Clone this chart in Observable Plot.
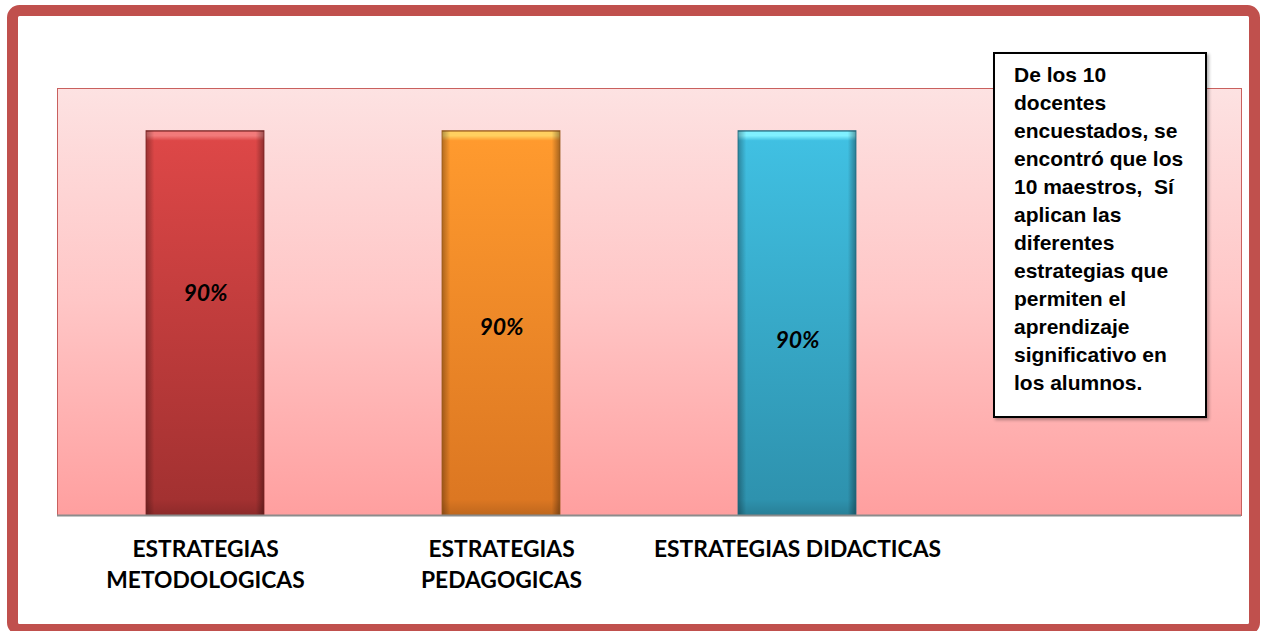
<!DOCTYPE html>
<html>
<head>
<meta charset="utf-8">
<script src="https://cdn.jsdelivr.net/npm/d3@7"></script>
<script src="https://cdn.jsdelivr.net/npm/@observablehq/plot@0.6"></script>
<style>
  html, body { margin: 0; padding: 0; background: #fff; }
  #wrap { position: relative; width: 1261px; height: 631px; overflow: hidden; }
  #note {
    position: absolute; left: 993px; top: 52px; width: 214px; height: 366px;
    box-sizing: border-box; border: 2px solid #000; background: #fff;
    font: bold 21px "Liberation Sans", Arial, sans-serif; line-height: 28px;
    padding: 7px 0 0 19px; white-space: pre; color: #000;
    box-shadow: 2px 2px 3px rgba(0,0,0,0.3);
  }
</style>
</head>
<body>
<div id="wrap"></div>
<script>
// ---- data ----
const categories = ["ESTRATEGIAS METODOLOGICAS", "ESTRATEGIAS PEDAGOGICAS", "ESTRATEGIAS DIDACTICAS", " "];
const values = [90, 90, 90];
const valueLabels = ["90%", "90%", "90%"];
const tickLabels = ["ESTRATEGIAS\nMETODOLOGICAS", "ESTRATEGIAS\nPEDAGOGICAS", "ESTRATEGIAS DIDACTICAS", ""];
const noteLines = [
  "De los 10",
  "docentes",
  "encuestados, se",
  "encontró que los",
  "10 maestros,  Sí",
  "aplican las",
  "diferentes",
  "estrategias que",
  "permiten el",
  "aprendizaje",
  "significativo en",
  "los alumnos."
];

// ---- styling (not data) ----
const barColors = [
  {hi: "#f27a7a", top: "#dd4747", bot: "#a33131", edge: "#7a2222"},
  {hi: "#ffd060", top: "#ff9a2e", bot: "#dc7722", edge: "#9a5a1a"},
  {hi: "#80f0ff", top: "#40c0e2", bot: "#2e92ae", edge: "#1f6a80"}
];
const labelAt = [52, 44, 41]; // vertical placement of the value labels (in y units)

const rows = values.map((v, i) => ({
  cat: categories[i], value: v, label: valueLabels[i],
  grad: `url(#bar${i})`, edge: barColors[i].edge, ly: labelAt[i]
}));

const svg = Plot.plot({
  width: 1261,
  height: 631,
  marginLeft: 57,
  marginRight: 20,
  marginTop: 88,
  marginBottom: 116,
  style: {fontFamily: "Lato, 'Open Sans', sans-serif", background: "transparent", overflow: "visible"},
  x: {domain: categories, paddingInner: 0.6, paddingOuter: 0.3, align: 0.5},
  y: {domain: [0, 100], axis: null},
  color: {type: "identity"},
  marks: [
    Plot.frame({fill: "url(#bg)", stroke: "#c9605e", strokeWidth: 1}),
    Plot.barY(rows, {x: "cat", y: "value", fill: "grad"}),
    Plot.barY(rows, {x: "cat", y: "value", fill: "url(#edgeShade)"}),
    Plot.barY(rows, {x: "cat", y: "value", fill: "none", stroke: "edge", strokeWidth: 1, strokeOpacity: 0.8}),
    Plot.text(rows, {x: "cat", y: "ly", text: "label", fontSize: 23, fontWeight: "bold", fontStyle: "italic", fill: "#000"}),
    Plot.ruleY([0], {stroke: "#8c8c8c", strokeWidth: 2}),
    Plot.axisX({
      tickSize: 0, tickPadding: 20, fontSize: 22.8, fontWeight: "bold", lineHeight: 1.34,
      fill: "#000", tickFormat: d => tickLabels[categories.indexOf(d)], label: null
    }),
    Plot.frame({stroke: "#c0504d", strokeWidth: 11, rx: 7, insetLeft: -45, insetTop: -78, insetRight: -13, insetBottom: -114})
  ]
});

// gradients
const defs = d3.select(svg).insert("defs", ":first-child");
const bg = defs.append("linearGradient").attr("id", "bg").attr("x1", 0).attr("y1", 0).attr("x2", 0).attr("y2", 1);
bg.append("stop").attr("offset", "0%").attr("stop-color", "#fde2e2");
bg.append("stop").attr("offset", "50%").attr("stop-color", "#ffc6c6");
bg.append("stop").attr("offset", "100%").attr("stop-color", "#ff9f9f");

barColors.forEach((c, i) => {
  const g = defs.append("linearGradient").attr("id", `bar${i}`).attr("x1", 0).attr("y1", 0).attr("x2", 0).attr("y2", 1);
  g.append("stop").attr("offset", "0%").attr("stop-color", c.edge);
  g.append("stop").attr("offset", "0.4%").attr("stop-color", c.hi);
  g.append("stop").attr("offset", "1.3%").attr("stop-color", c.hi);
  g.append("stop").attr("offset", "2.6%").attr("stop-color", c.top);
  g.append("stop").attr("offset", "96%").attr("stop-color", c.bot);
  g.append("stop").attr("offset", "100%").attr("stop-color", d3.color(c.bot).darker(0.4));
});
const es = defs.append("linearGradient").attr("id", "edgeShade").attr("x1", 0).attr("y1", 0).attr("x2", 1).attr("y2", 0);
es.append("stop").attr("offset", "0%").attr("stop-color", "#000").attr("stop-opacity", 0.3);
es.append("stop").attr("offset", "7%").attr("stop-color", "#000").attr("stop-opacity", 0.0);
es.append("stop").attr("offset", "93%").attr("stop-color", "#000").attr("stop-opacity", 0.0);
es.append("stop").attr("offset", "100%").attr("stop-color", "#000").attr("stop-opacity", 0.35);

// shadow on plot area frame
const firstFrame = svg.querySelector('g[aria-label="frame"] rect, g[aria-label="frame"]');
if (firstFrame) firstFrame.style.filter = "drop-shadow(2px 3px 2px rgba(0,0,0,0.35))";

const wrap = document.getElementById("wrap");
wrap.appendChild(svg);
const note = document.createElement("div");
note.id = "note";
note.textContent = noteLines.join("\n");
wrap.appendChild(note);
</script>
</body>
</html>
